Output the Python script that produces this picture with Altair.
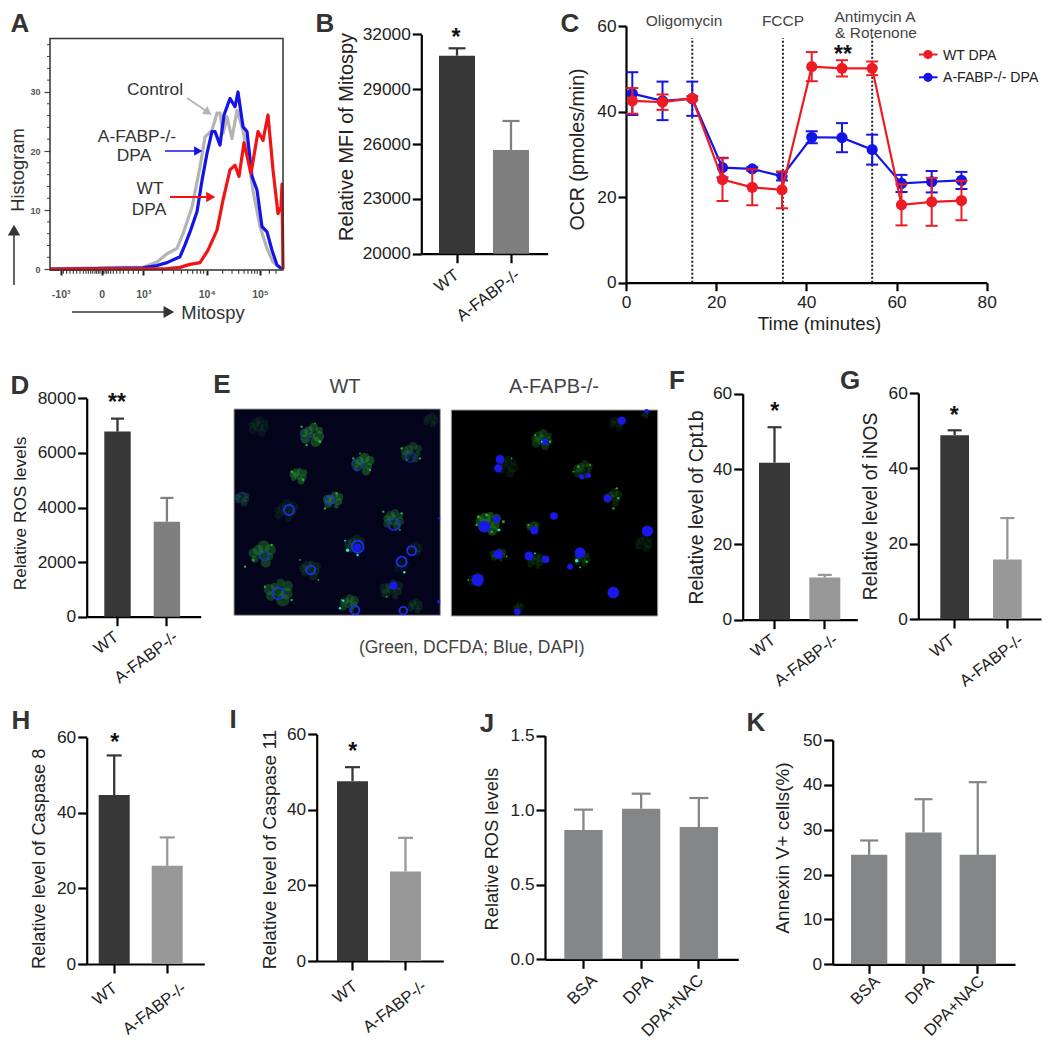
import math
import altair as alt
import pandas as pd

FONT = "Liberation Sans"
DARK = "#373737"
MID = "#7f7f7f"
LIGHT = "#989898"
NEUT = "#858688"
RED = "#ed1c24"
BLUE = "#1414e6"
W, H = 1034, 1033

# ---------- Panel A ----------
hist_blue_x = [0,47,93,107,117,130,135,140,147,152,157,162,165,170,174,180,185,188,193,197,202,207,212,217,222,227,232]
hist_blue_y = [0,0.1,0.2,0.6,1.1,2.1,4.1,6.3,9.7,15.0,19.6,23.3,23.3,21.0,26.1,28.9,27.5,30.0,24.1,23.3,15.7,13.4,7.2,6.3,3.2,0.7,0]
hist_red_x = [0,117,130,140,150,158,167,173,180,185,189,194,201,208,213,218,223,228,231,232,233]
hist_red_y = [0,0.1,0.3,0.8,1.1,3.2,6.6,11.7,16.8,17.6,15.7,21.4,16.2,23.3,21.8,26.1,16.8,9.4,10.5,14.4,0]
hist_gray_x = [0,67,93,107,117,127,133,142,150,155,162,167,170,173,177,182,187,193,198,203,210,217,223,232]
hist_gray_y = [0,0.3,0.3,1.2,2.6,3.5,6.0,10.5,17.3,22.4,23.5,26.4,26.4,23.0,25.8,22.1,26.9,23.5,19.0,13.3,7.2,3.5,1.2,0]
hist_x_ticks = [10.7, 51.7, 93.3, 156.7, 210]
hist_x_labels = ["-10\u00b3", "0", "10\u00b3", "10\u2074", "10\u2075"]
hist_x_minor = [13.3,16.7,20,23.3,26.7,30,33.3,36,38.3,40.7,42.7,45,46.7,48.3,50,53.3,55,56.7,58.3,60.7,63.3,66.7,70,73.3,78.3,83.3,88.3,
                112.3,123.7,131.3,137.7,142.7,147,150.7,153.7,172.7,182,188.7,194,198,201.7,204.7,207.3,219.3,226]
hist_y_minor = [2,4,6,8,12,14,16,18,22,24,26,28,32,34,36,38]

# ---------- Panel C ----------
ocr_time = [1.4,8.1,14.7,21.4,28,34.6,41.2,47.9,54.6,61.1,67.8,74.4]
ocr_wt = [42.5,42.2,43.1,24.1,22.3,21.7,50.5,50.1,50.1,18.2,18.9,19.2]
ocr_wt_err = [3.0,1.8,0.5,5.0,4.2,4.3,3.4,1.9,1.6,4.8,5.6,4.6]
ocr_ko = [44.2,42.5,43.0,26.9,26.6,24.9,34.0,33.9,31.1,23.2,23.6,23.9]
ocr_ko_err = [5.0,4.5,4.0,2.3,0.4,1.0,1.4,3.4,3.5,2.0,2.5,2.0]
inject_times = [14.7, 34.8, 54.6]

# ---------- Bar panels ----------
WTKO = ["WT", "A-FABP-/-"]
TRT = ["BSA", "DPA", "DPA+NAC"]
b_mean, b_top = [30830, 25670], [31234, 27260]
d_mean, d_top = [6780, 3480], [7255, 4350]
f_mean, f_top = [41.7, 11.2], [51.1, 11.9]
g_mean, g_top = [48.8, 15.8], [50.1, 26.8]
h_mean, h_top = [44.7, 26.0], [55.2, 33.5]
i_mean, i_top = [47.6, 23.7], [51.3, 32.6]
j_mean, j_top = [0.867, 1.01, 0.887], [1.004, 1.111, 1.082]
k_mean, k_top = [24.4, 29.4, 24.4], [27.6, 36.8, 40.6]

# ---------- Panel E: field features ----------
wt_blobs = [(115,170,35,.3),(275,195,38,1),(575,248,33,.7),(428,285,35,1),(235,318,28,1),(65,385,24,.6),(340,392,30,1),
            (195,425,38,.3),(520,450,35,.8),(632,150,24,.35),(405,525,32,.45),(125,555,42,.9),(270,600,34,.45),(175,665,45,.85),
            (515,660,35,.45),(385,703,30,.8),(585,708,26,.4),(585,535,24,.3),(545,590,24,.2)]
wt_dots = [(245,170,4),(300,215,5),(260,225,4),(285,160,3),(545,235,4),(600,265,4),(560,270,3),(400,265,4),(450,300,4),(420,250,3),
           (215,305,4),(250,330,4),(350,370,4),(315,415,4),(490,425,4),(545,430,4),(540,480,3),(75,590,4),(100,570,4),(155,525,4),
           (240,570,3),(295,630,3),(135,650,4),(215,690,4),(365,690,3),(500,680,3)]
wt_rings = [(65,382,16,.4),(258,195,20,.3),(572,262,16,.5),(412,285,18,.5),(330,390,14,.8),(207,420,17,1),(522,463,20,.7),
            (133,558,15,.6),(272,600,15,1),(175,670,20,.8),(413,530,20,1),(575,542,15,1),(545,575,17,1),(405,720,15,1),(550,722,13,1)]
wt_nuclei = [(412,532,13),(520,647,14),(657,445,4),(656,695,6)]
wt_spots = [(383,541,6),(413,555,4),(375,512,3),(553,607,4),(370,692,4),(360,715,4)]
ko_blobs = [(965,210,35,.7),(860,290,34,.3),(1090,300,30,.6),(1178,385,28,.5),(805,460,40,1),(937,470,20,.8),(835,555,24,.6),
            (945,575,28,.4),(1085,565,28,.5),(1270,520,28,.3),(770,630,24,.3),(895,715,18,.35),(1190,160,24,.3),(1275,135,12,.4)]
ko_dots = [(775,440,5),(800,435,4),(850,455,5),(835,480,5),(815,485,4),(770,465,4),(990,215,4),(945,195,3),(1075,290,4),(1110,285,3),
           (1190,355,4),(1195,385,4),(1180,415,4),(925,465,3),(860,560,3),(1100,575,4),(1060,305,3),(875,265,3),(745,630,3)]
ko_nuclei = [(1205,152,14),(975,215,11),(840,268,15),(835,295,14),(1085,320,9),(1105,316,9),(1162,385,13),(1002,438,13),(793,470,20),
             (830,447,12),(943,481,14),(1282,483,19),(835,553,16),(927,558,15),(977,568,13),(1080,548,18),(1050,590,10),
             (773,630,21),(1180,668,20),(892,725,11),(1280,124,8)]
ko_spots = [(1070,572,6),(1080,592,3),(945,550,3),(838,480,4),(965,215,3)]
lobe_pattern = [(.55,.1,.42),(-.5,.3,.4),(.15,-.6,.38),(-.25,-.35,.45),(.3,.55,.36),(-.6,-.15,.3),(.62,-.38,.28),(0,0,.5)]

ONE = pd.DataFrame({"a": [0]})


def X(v):
    return v - 8


def Y(v):
    return v - 8


def label(text, x, y, size=17, color="#333333", weight="normal", angle=0, align="center", baseline="middle"):
    return alt.Chart(ONE).mark_text(text=text, font=FONT, fontSize=size, color=color, fontWeight=weight,
                                    angle=angle, align=align, baseline=baseline).encode(
        x=alt.value(X(x)), y=alt.value(Y(y)))


def star(text, x, cy, size=23):
    return label(text, x, cy + 0.56 * size - 1, size=size, color="#111111", weight="bold", baseline="alphabetic")


def arrow(x1, y1, x2, y2, color, lw=1.6, head=110):
    ang = math.degrees(math.atan2(x2 - x1, -(y2 - y1)))
    L = math.hypot(x2 - x1, y2 - y1)
    back = math.sqrt(head) * 0.5
    cx, cy = x2 - (x2 - x1) / L * back, y2 - (y2 - y1) / L * back
    shaft = alt.Chart(ONE).mark_rule(color=color, strokeWidth=lw).encode(
        x=alt.value(X(x1)), x2=alt.value(X(cx)), y=alt.value(Y(y1)), y2=alt.value(Y(cy)))
    tip = alt.Chart(ONE).mark_point(shape="triangle-up", filled=True, color=color, size=head, angle=(ang + 360) % 360, opacity=1).encode(
        x=alt.value(X(cx)), y=alt.value(Y(cy)))
    return [shaft, tip]


def y_axis(xl, tx, ty, title, values, tsize=19, lsize=17.3, fmt="d", tick=9):
    return alt.Axis(orient="left", offset=-X(xl), values=values, title=title, titleX=X(tx) - X(xl), titleY=Y(ty), format=fmt,
                    titleAngle=-90, titleAlign="center", titleBaseline="middle", titleFontSize=tsize, titleFontWeight="normal",
                    titleColor="#222222", titleFont=FONT, labelFont=FONT, labelFontSize=lsize, labelColor="#222222",
                    labelPadding=2, domainColor="#000000", domainWidth=2.2, tickColor="#000000", tickWidth=2.2, tickSize=tick,
                    grid=False, labelOverlap=False, labelFlush=False)


def bar_panel(cats, mean, top, colors, xl, xr, yt, yb, ydom, yticks, ytitle, tx, ty, first, bw, step, tsize=19, fmt="d", cap=None,
              lsize=16.5, langle=-37, loff=None, lpad=10):
    n = len(cats)
    span = xr - xl
    outer = span - (n * step - (step - bw))
    scale_x = alt.Scale(domain=cats, range=[X(xl), X(xr)], paddingInner=1 - bw / step,
                        paddingOuter=outer / (2 * step), align=(first - xl) / outer)
    scale_y = alt.Scale(domain=ydom, range=[Y(yb), Y(yt)], nice=False, zero=False)
    df = pd.DataFrame({"cat": cats, "v": mean, "top": top, "base": [ydom[0]] * n, "col": colors})
    lmap = "{" + ",".join(f"'{c}':{o}" for c, o in zip(cats, loff)) + "}"
    xaxis = alt.Axis(orient="bottom", offset=Y(yb) - H, title=None, labelAngle=langle, labelAlign="right", labelBaseline="middle",
                     labelOffset=alt.expr(f"({lmap})[datum.label]"),
                     labelFont=FONT, labelFontSize=lsize, labelColor="#222222", labelPadding=lpad, domainColor="#000000", domainWidth=2.2,
                     tickColor="#000000", tickWidth=2.2, tickSize=9, grid=False, labelOverlap=False, labelFlush=False)
    ex = alt.X("cat:N", scale=scale_x, sort=None, axis=None)
    ey = alt.Y("top:Q", scale=scale_y, axis=None)
    col = alt.Color("col:N", scale=None)
    base = alt.Chart(df)
    cap = cap if cap else bw * 0.45
    return [
        base.mark_rule(strokeWidth=2.3).encode(x=ex, y=ey, y2="v:Q", color=col),
        base.mark_tick(size=cap, thickness=2.2, orient="horizontal", opacity=1).encode(x=ex, y=ey, color=col),
        base.mark_bar(opacity=1).encode(
            x=alt.X("cat:N", scale=scale_x, sort=None, axis=xaxis),
            y=alt.Y("v:Q", scale=scale_y, axis=y_axis(xl, tx, ty, ytitle, yticks, tsize, 17.3, fmt)),
            y2="base:Q", color=col),
    ]


# ---------- Panel A chart ----------
def panel_a():
    sx = alt.Scale(domain=[0, 233], range=[X(50), X(283)], nice=False, zero=False)
    sy = alt.Scale(domain=[-0.15, 39.05], range=[Y(270), Y(38.5)], nice=False, zero=False)
    rows = []
    for name, xs, ys in (("Control", hist_gray_x, hist_gray_y), ("A-FABP-/- DPA", hist_blue_x, hist_blue_y), ("WT DPA", hist_red_x, hist_red_y)):
        rows += [{"s": name, "x": a, "y": b} for a, b in zip(xs, ys)]
    df = pd.DataFrame(rows)
    lab = "{" + ",".join(f"'{v}':'{t}'" for v, t in zip(hist_x_ticks, hist_x_labels)) + "}"
    xaxis = alt.Axis(orient="bottom", offset=Y(270) - H, values=hist_x_ticks, title=None, domain=False, grid=False,
                     labelExpr=f"({lab})[''+datum.value]", labelFont=FONT, labelFontSize=10.5, labelFontWeight="bold", labelColor="#555555",
                     labelPadding=14, tickColor="#222222", tickWidth=2, tickSize=5, labelOverlap=False, labelFlush=False)
    yaxis = alt.Axis(orient="left", offset=-X(50), values=[0, 10, 20, 30], title=None, domain=False, grid=False, labelFont=FONT,
                     labelFontSize=9, labelFontWeight="bold", labelColor="#555555", labelPadding=4, tickColor="#444444", tickWidth=1.2, tickSize=6,
                     labelOverlap=False, labelFlush=False)
    frame = pd.DataFrame({"x": [0], "x2": [233], "y": [-0.15], "y2": [39.05]})
    layers = [
        alt.Chart(pd.DataFrame({"m": hist_x_minor})).mark_tick(color="#222222", orient="vertical", size=3.5, thickness=1, opacity=1).encode(
            x=alt.X("m:Q", scale=sx, axis=None), y=alt.value(Y(272))),
        alt.Chart(pd.DataFrame({"m": hist_y_minor})).mark_tick(color="#444444", orient="horizontal", size=3, thickness=1, opacity=1).encode(
            y=alt.Y("m:Q", scale=sy, axis=None), x=alt.value(X(48.5))),
    ]
    for name, color, wd in (("Control", "#b4b4b4", 3.2), ("A-FABP-/- DPA", "#1414e6", 3.2), ("WT DPA", "#f01414", 3.2)):
        layers.append(alt.Chart(df[df.s == name]).mark_line(color=color, strokeWidth=wd, strokeJoin="round").encode(
            x=alt.X("x:Q", scale=sx, axis=None), y=alt.Y("y:Q", scale=sy, axis=None)))
    layers.append(alt.Chart(frame).mark_rect(fill=None, stroke="#333333", strokeWidth=1.5).encode(
        x=alt.X("x:Q", scale=sx, axis=xaxis), x2="x2:Q", y=alt.Y("y:Q", scale=sy, axis=yaxis), y2="y2:Q"))
    return layers


# ---------- Panel C chart ----------
def panel_c():
    sx = alt.Scale(domain=[0, 80], range=[X(626), X(986.7)], nice=False, zero=False)
    sy = alt.Scale(domain=[0, 60], range=[Y(282.7), Y(26)], nice=False, zero=False)
    rows = []
    for name, m, e in (("A-FABP-/- DPA", ocr_ko, ocr_ko_err), ("WT DPA", ocr_wt, ocr_wt_err)):
        rows += [{"s": name, "t": t, "m": a, "lo": a - b, "hi": a + b} for t, a, b in zip(ocr_time, m, e)]
    df = pd.DataFrame(rows)
    ex = alt.X("t:Q", scale=sx, axis=None)
    xaxis = alt.Axis(orient="bottom", offset=Y(282.7) - H, values=[0, 20, 40, 60, 80], title="Time (minutes)", titleX=X(819), titleY=Y(323.5) - Y(282.7),
                     titleAlign="center", titleBaseline="middle", titleFont=FONT, titleFontSize=18.6, titleFontWeight="normal", titleColor="#222222",
                     labelFont=FONT, labelFontSize=17.3, labelColor="#222222", labelPadding=3, domainColor="#000000", domainWidth=2.2,
                     tickColor="#000000", tickWidth=2.2, tickSize=8, grid=False, labelOverlap=False, labelFlush=False)
    layers = [alt.Chart(pd.DataFrame({"t": inject_times, "top": [57.2] * 3, "bot": [0] * 3})).mark_rule(
        color="#222222", strokeWidth=2, strokeDash=[2, 2]).encode(x=ex, y=alt.Y("bot:Q", scale=sy, axis=None), y2="top:Q")]
    for name, color in (("A-FABP-/- DPA", BLUE), ("WT DPA", RED)):
        d = alt.Chart(df[df.s == name])
        ey = lambda f: alt.Y(f + ":Q", scale=sy, axis=None)
        layers += [
            d.mark_rule(strokeWidth=2, color=color).encode(x=ex, y=ey("lo"), y2="hi:Q"),
            d.mark_tick(orient="horizontal", size=12, thickness=2, opacity=1, color=color).encode(x=ex, y=ey("lo")),
            d.mark_tick(orient="horizontal", size=12, thickness=2, opacity=1, color=color).encode(x=ex, y=ey("hi")),
            d.mark_line(strokeWidth=2.2, color=color).encode(x=ex, y=ey("m")),
        ]
        if name == "A-FABP-/- DPA":
            layers.append(d.mark_point(filled=True, size=125, opacity=1, color=color).encode(x=ex, y=ey("m")))
        else:
            layers.append(d.mark_point(filled=True, size=125, opacity=1, color=color).encode(
                x=alt.X("t:Q", scale=sx, axis=xaxis),
                y=alt.Y("m:Q", scale=sy, axis=y_axis(626, 577, 149, "OCR (pmoles/min)", [0, 20, 40, 60], 19.6, 17.3, tick=8))))
    # key
    for name, color, ky in (("WT DPA", RED, 54.5), ("A-FABP-/- DPA", BLUE, 77.3)):
        layers.append(alt.Chart(ONE).mark_rule(color=color, strokeWidth=2).encode(
            x=alt.value(X(919)), x2=alt.value(X(937.5)), y=alt.value(Y(ky))))
        layers.append(alt.Chart(ONE).mark_point(filled=True, size=85, opacity=1, color=color).encode(
            x=alt.value(X(928)), y=alt.value(Y(ky))))
        layers.append(label(name, 943, ky + 1, 14.1, "#222222", align="left"))
    return layers


# ---------- Panel E ----------
def micro(bg, dx, dy, rx, ry, blobs, dots, rings, nuclei, spots):
    sx = alt.Scale(domain=dx, range=[X(rx[0]), X(rx[1])], nice=False, zero=False)
    sy = alt.Scale(domain=dy, range=[Y(ry[0]), Y(ry[1])], nice=False, zero=False)
    ex, ey = alt.X("x:Q", scale=sx, axis=None), alt.Y("y:Q", scale=sy, axis=None)
    sz = alt.Size("s:Q", scale=None)
    op = alt.Opacity("o:Q", scale=None)

    def area(r):
        return math.pi * (r / 3) ** 2

    back = pd.DataFrame({"x": [dx[0]], "x2": [dx[1]], "y": [dy[0]], "y2": [dy[1]]})
    rows = []
    for i, (a, b, r, k) in enumerate(blobs):
        for j, (ox, oy, rr) in enumerate(lobe_pattern):
            p, q = lobe_pattern[(j + i) % 8][:2]
            rows.append({"x": a + p * r, "y": b + q * r, "s": area(rr * r), "o": 0.42 * k})
    lobes = pd.DataFrame(rows)
    dd = pd.DataFrame([{"x": a, "y": b, "s": area(r)} for a, b, r in dots])
    nn = pd.DataFrame([{"x": a, "y": b, "s": area(r)} for a, b, r in nuclei])
    ss = pd.DataFrame([{"x": a, "y": b, "s": area(r)} for a, b, r in spots])
    layers = [
        alt.Chart(back).mark_rect(fill=bg, stroke="#a0a0a0", strokeWidth=1).encode(x=ex, x2="x2:Q", y=ey, y2="y2:Q"),
        alt.Chart(lobes).mark_circle(color="#2a9a30").encode(x=ex, y=ey, size=sz, opacity=op),
        alt.Chart(dd).mark_circle(color="#35c83a", opacity=0.85).encode(x=ex, y=ey, size=sz),
    ]
    if rings:
        rr = pd.DataFrame([{"x": a, "y": b, "s": area(r), "o": k} for a, b, r, k in rings])
        layers.append(alt.Chart(rr).mark_point(color="#1a32f0", strokeWidth=1.8, filled=False).encode(x=ex, y=ey, size=sz, opacity=op))
    layers.append(alt.Chart(nn).mark_circle(color="#1818e8", opacity=1).encode(x=ex, y=ey, size=sz))
    layers.append(alt.Chart(ss).mark_circle(color="#20e8e8", opacity=1).encode(x=ex, y=ey, size=sz))
    return layers


panels = (
    panel_a()
    + bar_panel(WTKO, b_mean, b_top, [DARK, MID], 421.3, 547.7, 34.3, 253.7, [20000, 32000], [20000, 23000, 26000, 29000, 32000],
                "Relative MFI of Mitospy", 346, 136.5, 439, 36, 54, tsize=19.9, cap=17, loff=[0, 7], lpad=10)
    + panel_c()
    + bar_panel(WTKO, d_mean, d_top, [DARK, MID], 86.7, 200.7, 398.3, 616.7, [0, 8000], [0, 2000, 4000, 6000, 8000],
                "Relative ROS levels", 20, 513, 104.3, 26.4, 49.4, tsize=17.3, cap=13, loff=[-1, 9], lpad=9)
    + micro("#03031c", [42, 661], [117, 736], (234, 440.3), (409, 615.3), wt_blobs, wt_dots, wt_rings, wt_nuclei, wt_spots)
    + micro("#000000", [694, 1313], [120, 738], (451.3, 657.7), (410, 616), ko_blobs, ko_dots, [], ko_nuclei, ko_spots)
    + bar_panel(WTKO, f_mean, f_top, [DARK, LIGHT], 742.7, 857.3, 393.7, 619.7, [0, 60], [0, 20, 40, 60],
                "Relative level of Cpt1b", 696, 507, 759, 31, 50.3, tsize=19.4, cap=14, loff=[-1, 11], lpad=9)
    + bar_panel(WTKO, g_mean, g_top, [DARK, LIGHT], 918.3, 1041, 393, 619, [0, 60], [0, 20, 40, 60],
                "Relative level of iNOS", 870, 506, 940.3, 28.7, 52.7, tsize=19.3, cap=14, loff=[-2, 14], lpad=10)
    + bar_panel(WTKO, h_mean, h_top, [DARK, LIGHT], 86.7, 204.3, 737.3, 964, [0, 60], [0, 20, 40, 60],
                "Relative level of Caspase 8", 39.3, 858.3, 98.7, 31, 53, tsize=18.2, cap=15, loff=[1, 17], lpad=13)
    + bar_panel(WTKO, i_mean, i_top, [DARK, LIGHT], 316.7, 443.3, 734.3, 961, [0, 60], [0, 20, 40, 60],
                "Relative level of Caspase 11", 269.3, 849, 337, 31, 53, tsize=19, cap=15, loff=[3, 19], lpad=14)
    + bar_panel(TRT, j_mean, j_top, [NEUT] * 3, 545, 738.3, 735.7, 959.3, [0, 1.5], [0, 0.5, 1.0, 1.5],
                "Relative ROS levels", 492.7, 848.7, 564.3, 38.3, 57.7, tsize=18.3, fmt=".1f", cap=19, lsize=17, langle=-45, loff=[11, 9, 2], lpad=9)
    + bar_panel(TRT, k_mean, k_top, [NEUT] * 3, 832.7, 1015, 740, 964.3, [0, 50], [0, 10, 20, 30, 40, 50],
                "Annexin V+ cells(%)", 782.7, 847.5, 851, 36.3, 54.3, tsize=19.1, cap=18, lsize=16.5, langle=-45, loff=[8, 8, 4], lpad=5)
)

annots = []
for text, x, y in (("A", 20, 24), ("B", 325, 24), ("C", 570, 24), ("D", 20, 386), ("E", 222, 385), ("F", 677, 381), ("G", 850, 381),
                   ("H", 21, 721), ("I", 233, 720), ("J", 487, 724), ("K", 756, 723)):
    annots.append(label(text, x, y, size=26, color="#333333", weight="bold"))
annots += [
    label("Control", 155, 90, 17.4), label("A-FABP-/-", 137, 137, 17.4), label("DPA", 134, 156, 17.4),
    label("WT", 150, 189, 17.4), label("DPA", 149, 210, 17.4),
    label("Histogram", 19, 170, 18.3, angle=270), label("Mitospy", 213, 313, 18.4),
    label("Oligomycin", 684, 21, 15.5, "#444444"), label("FCCP", 783, 21, 15.5, "#444444"),
    label("Antimycin A", 875, 17, 15.5, "#444444"), label("& Rotenone", 876, 33, 15.5, "#444444"),
    label("WT", 345, 386.7, 20, "#444444"), label("A-FAPB-/-", 554, 386.7, 20, "#444444"),
    label("(Green, DCFDA; Blue, DAPI)", 471.7, 648, 17.5, "#444444"),
    star("*", 456, 33), star("**", 843, 50), star("**", 117, 398), star("*", 774.7, 407), star("*", 954.3, 410.7),
    star("*", 114.7, 738), star("*", 352.7, 746.7),
]
annots += arrow(187, 98, 212, 115, "#b4b4b4", 1.8, 90)
annots += arrow(165, 151, 203, 151, "#1414e6", 1.6, 90)
annots += arrow(170, 197, 216, 197, "#f01414", 2, 110)
annots += arrow(14, 285, 14, 224, "#333333", 1.5, 150)
annots += arrow(72, 312, 175, 312, "#333333", 1.5, 150)

chart = alt.layer(*panels, *annots).resolve_scale(x="independent", y="independent").properties(
    width=W, height=H, autosize=alt.AutoSizeParams(type="none"), padding=0, background="white"
).configure_view(stroke=None)

chart.save("out.html", embed_options={"renderer": "svg", "actions": False})
